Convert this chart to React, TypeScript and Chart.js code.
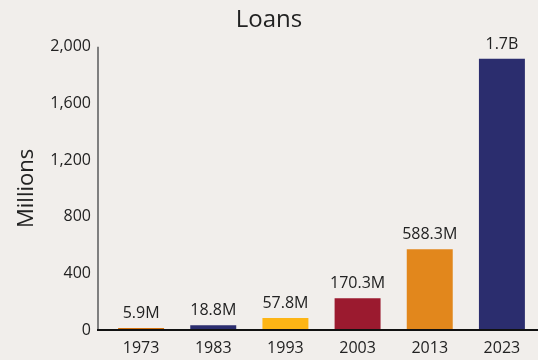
import React, { useEffect, useRef } from "react";
import { Chart, registerables } from "chart.js";

Chart.register(...registerables);

const categories = ["1973", "1983", "1993", "2003", "2013", "2023"];
const barValues = [14, 33, 85, 224, 571, 1915];
const valueLabels = ["5.9M", "18.8M", "57.8M", "170.3M", "588.3M", "1.7B"];
const barColors = ["#d4720e", "#2b2d6e", "#fdb515", "#9b1a2f", "#e2871c", "#2b2d6e"];
const yTicks = [0, 400, 800, 1200, 1600, 2000];

const FONT = "'Open Sans', sans-serif";

const axisLinesPlugin = {
  id: "axisLines",
  afterDatasetsDraw(chart: any) {
    const { ctx, chartArea } = chart;
    const offset = 7;
    ctx.save();
    ctx.lineWidth = 2;
    ctx.strokeStyle = "#7f7f7f";
    ctx.beginPath();
    ctx.moveTo(chartArea.left - offset, chartArea.top);
    ctx.lineTo(chartArea.left - offset, chartArea.bottom);
    ctx.stroke();
    ctx.strokeStyle = "#111111";
    ctx.beginPath();
    ctx.moveTo(chartArea.left - offset - 1, chartArea.bottom);
    ctx.lineTo(chartArea.right, chartArea.bottom);
    ctx.stroke();
    ctx.restore();
  },
};

const valueLabelPlugin = {
  id: "valueLabels",
  afterDatasetsDraw(chart: any) {
    const { ctx } = chart;
    const meta = chart.getDatasetMeta(0);
    ctx.save();
    ctx.font = `16px ${FONT}`;
    ctx.fillStyle = "#222222";
    ctx.textAlign = "center";
    ctx.textBaseline = "alphabetic";
    meta.data.forEach((bar: any, i: number) => {
      ctx.fillText(valueLabels[i], bar.x, bar.y - 10);
    });
    ctx.restore();
  },
};

export default function App() {
  const ref = useRef<HTMLCanvasElement | null>(null);

  useEffect(() => {
    document.body.style.margin = "0";
    document.body.style.background = "#f1eeeb";
    if (!ref.current) return;
    const chart = new Chart(ref.current, {
      type: "bar",
      data: {
        labels: categories,
        datasets: [
          {
            data: barValues,
            backgroundColor: barColors,
            borderWidth: 0,
            categoryPercentage: 1,
            barPercentage: 0.637,
          },
        ],
      },
      options: {
        animation: false,
        responsive: false,
        maintainAspectRatio: false,
        layout: { padding: { top: 0, right: 0, bottom: 0, left: 0 } },
        plugins: {
          legend: { display: false },
          tooltip: { enabled: false },
          title: {
            display: true,
            text: "Loans",
            color: "#222222",
            font: { family: FONT, size: 24, weight: "normal" },
            padding: { top: 6, bottom: 12 },
          },
        },
        scales: {
          x: {
            grid: { display: false, drawTicks: false },
            border: { display: false },
            ticks: {
              color: "#222222",
              font: { family: FONT, size: 16 },
              padding: 9,
            },
            afterFit(scale: any) {
              scale.height = 30;
            },
          },
          y: {
            min: 0,
            max: 2000,
            grid: { display: false, drawTicks: false },
            border: { display: false },
            afterBuildTicks(scale: any) {
              scale.ticks = yTicks.map((v) => ({ value: v }));
            },
            ticks: {
              color: "#222222",
              font: { family: FONT, size: 16 },
              padding: 14,
              callback: (v: any) => Number(v).toLocaleString("en-US"),
            },
            title: {
              display: true,
              text: "Millions",
              color: "#222222",
              font: { family: FONT, size: 22 },
              padding: { top: 14, bottom: 0 },
            },
            afterFit(scale: any) {
              scale.width = 105;
            },
          },
        },
      },
      plugins: [axisLinesPlugin, valueLabelPlugin],
    });
    return () => chart.destroy();
  }, []);

  return (
    <div style={{ width: 538, height: 360, background: "#f1eeeb" }}>
      <canvas ref={ref} width={538} height={360} style={{ display: "block" }} />
    </div>
  );
}
